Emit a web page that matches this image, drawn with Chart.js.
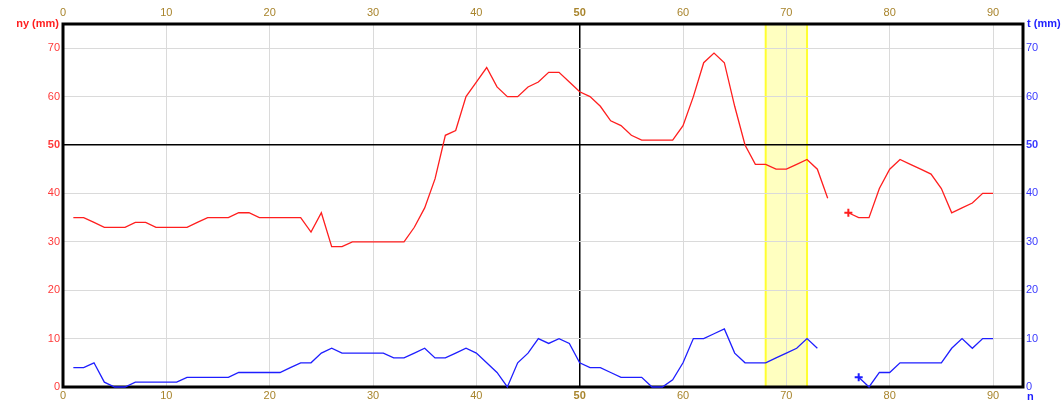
<!DOCTYPE html>
<html>
<head>
<meta charset="utf-8">
<script src="https://cdn.jsdelivr.net/npm/chart.js@4/dist/chart.umd.min.js"></script>
<style>
    html, body { margin: 0; padding: 0; background: #fff; }
</style>
</head>
<body>
<canvas id="myChart" width="1063" height="401"></canvas>
<script>
// n goes 1..90, one value per step (null = no reading)
const nStart = 1;

const nyValues = [
    35, 35, 34, 33, 33, 33, 34, 34, 33, 33,
    33, 33, 34, 35, 35, 35, 36, 36, 35, 35,
    35, 35, 35, 32, 36, 29, 29, 30, 30, 30,
    30, 30, 30, 33, 37, 43, 52, 53, 60, 63,
    66, 62, 60, 60, 62, 63, 65, 65, 63, 61,
    60, 58, 55, 54, 52, 51, 51, 51, 51, 54,
    60, 67, 69, 67, 58, 50, 46, 46, 45, 45,
    46, 47, 45, 39, null, 36, 35, 35, 41, 45,
    47, 46, 45, 44, 41, 36, 37, 38, 40, 40
];

const tValues = [
    4, 4, 5, 1, 0, 0, 1, 1, 1, 1,
    1, 2, 2, 2, 2, 2, 3, 3, 3, 3,
    3, 4, 5, 5, 7, 8, 7, 7, 7, 7,
    7, 6, 6, 7, 8, 6, 6, 7, 8, 7,
    5, 3, 0, 5, 7, 10, 9, 10, 9, 5,
    4, 4, 3, 2, 2, 2, 0, 0, 1.5, 5,
    10, 10, 11, 12, 7, 5, 5, 5, 6, 7,
    8, 10, 8, null, null, null, 2, 0, 3, 3,
    5, 5, 5, 5, 5, 8, 10, 8, 10, 10
];

const xTicks = [0, 10, 20, 30, 40, 50, 60, 70, 80, 90];
const yTicks = [0, 10, 20, 30, 40, 50, 60, 70];
const refX = 50, refY = 50;
const bandStart = 68, bandEnd = 72;

const FONT = "'Liberation Sans', Arial, sans-serif";
const RED = 'rgb(255,30,30)';
const BLUE = 'rgb(30,30,255)';
const AXIS_GOLD = '#a8842c';

function toPoints(values) {
    return values.map((v, i) => ({ x: nStart + i, y: v }));
}

// a cross marks the first point after a gap
function crossRadius(ctx) {
    const data = ctx.dataset.data;
    const i = ctx.dataIndex;
    if (data[i].y === null) return 0;
    if (i > 0 && data[i - 1].y === null) return 4;
    return 0;
}

function tickFont(ctx) {
    return { family: FONT, size: 11, weight: ctx.tick && ctx.tick.value === 50 ? 'bold' : 'normal' };
}

function fixedTicks(list) {
    return function(scale) {
        scale.ticks = list.map(v => ({ value: v }));
    };
}

// yellow band behind the grid, frame and titles
const decorations = {
    id: 'decorations',
    beforeDraw(chart) {
        const c = chart.ctx, a = chart.chartArea, x = chart.scales.x;
        const x1 = x.getPixelForValue(bandStart), x2 = x.getPixelForValue(bandEnd);
        c.save();
        c.fillStyle = '#ffffc0';
        c.fillRect(x1, a.top, x2 - x1, a.bottom - a.top);
        c.strokeStyle = '#ffff30';
        c.lineWidth = 2;
        c.beginPath();
        c.moveTo(x1, a.top); c.lineTo(x1, a.bottom);
        c.moveTo(x2, a.top); c.lineTo(x2, a.bottom);
        c.stroke();
        c.restore();
    },
    beforeDatasetsDraw(chart) {
        const c = chart.ctx, a = chart.chartArea;
        c.save();
        c.strokeStyle = '#000';
        c.lineWidth = 3;
        c.strokeRect(a.left, a.top, a.right - a.left, a.bottom - a.top);
        c.restore();
    },
    afterDraw(chart) {
        const c = chart.ctx, a = chart.chartArea;
        c.save();
        c.font = 'bold 11px ' + FONT;
        c.textBaseline = 'middle';
        c.fillStyle = RED;
        c.textAlign = 'right';
        c.fillText('ny (mm)', a.left - 4, a.top);
        c.fillStyle = BLUE;
        c.textAlign = 'left';
        c.fillText('t (mm)', a.right + 4, a.top);
        c.fillText('n', a.right + 4, a.bottom + 10);
        c.restore();
    }
};

const ctx = document.getElementById('myChart').getContext('2d');
const myChart = new Chart(ctx, {
    type: 'line',
    data: {
        datasets: [{
            label: 'ny (mm)',
            data: toPoints(nyValues),
            xAxisID: 'x',
            yAxisID: 'y',
            borderColor: RED,
            borderWidth: 1.3,
            pointStyle: 'cross',
            pointRadius: crossRadius,
            pointBorderColor: RED,
            pointBorderWidth: 2,
            spanGaps: false,
            tension: 0,
            clip: 3
        }, {
            label: 't (mm)',
            data: toPoints(tValues),
            xAxisID: 'x',
            yAxisID: 'y2',
            borderColor: BLUE,
            borderWidth: 1.3,
            pointStyle: 'cross',
            pointRadius: crossRadius,
            pointBorderColor: BLUE,
            pointBorderWidth: 2,
            spanGaps: false,
            tension: 0,
            clip: 3
        }]
    },
    options: {
        responsive: false,
        animation: false,
        events: [],
        layout: { padding: 0 },
        plugins: { legend: { display: false }, tooltip: { enabled: false } },
        scales: {
            x: {
                type: 'linear', position: 'bottom', min: 0, max: 92.9,
                afterBuildTicks: fixedTicks(xTicks),
                afterFit: s => { s.height = 14; },
                border: { display: false },
                grid: {
                    drawTicks: false,
                    color: c => c.tick && c.tick.value === refX ? '#000' : '#dadada',
                    lineWidth: c => c.tick && c.tick.value === refX ? 1.5 : 1
                },
                ticks: { color: AXIS_GOLD, font: tickFont, padding: 2, maxRotation: 0, autoSkip: false }
            },
            x2: {
                type: 'linear', position: 'top', min: 0, max: 92.9,
                afterBuildTicks: fixedTicks(xTicks),
                afterFit: s => { s.height = 24; },
                border: { display: false },
                grid: { display: false, drawTicks: false },
                ticks: { color: AXIS_GOLD, font: tickFont, padding: 4, maxRotation: 0, autoSkip: false }
            },
            y: {
                type: 'linear', position: 'left', min: 0, max: 75,
                afterBuildTicks: fixedTicks(yTicks),
                afterFit: s => { s.width = 63; },
                border: { display: false },
                grid: {
                    drawTicks: false,
                    color: c => c.tick && c.tick.value === refY ? '#000' : '#dadada',
                    lineWidth: c => c.tick && c.tick.value === refY ? 1.5 : 1
                },
                ticks: { color: '#ff3a3a', font: tickFont, padding: 3, autoSkip: false }
            },
            y2: {
                type: 'linear', position: 'right', min: 0, max: 75,
                afterBuildTicks: fixedTicks(yTicks),
                afterFit: s => { s.width = 40; },
                border: { display: false },
                grid: { display: false, drawTicks: false },
                ticks: { color: '#3a3aff', font: tickFont, padding: 3, autoSkip: false }
            }
        }
    },
    plugins: [decorations]
});
</script>
</body>
</html>
